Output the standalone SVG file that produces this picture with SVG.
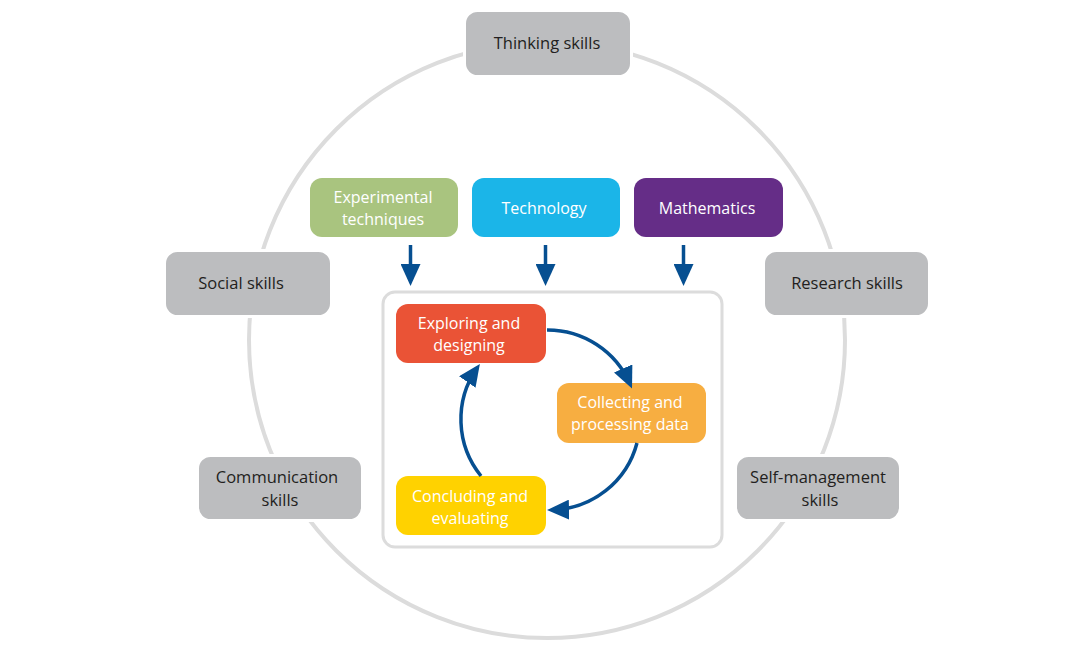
<svg xmlns="http://www.w3.org/2000/svg" width="1080" height="653" viewBox="0 0 1080 653">
<defs>
<marker id="ah" markerUnits="userSpaceOnUse" markerWidth="22" markerHeight="20" viewBox="0 0 22 20" refX="17" refY="10" orient="auto">
<path d="M0,0 L22,10 L0,20 z" fill="#064f91"/>
</marker>
</defs>
<style>
.gray{fill:#bcbdbf;stroke:#fff;stroke-width:3}
.t{font-family:"Open Sans","Noto Sans",sans-serif;font-size:16px;text-anchor:middle}
.dk{fill:#231f20;font-size:16.5px}
.wh{fill:#fff}
.conn{fill:none;stroke:#064f91;stroke-width:3.5}
</style>
<rect width="1080" height="653" fill="#fff"/>
<circle cx="547" cy="340" r="298" fill="none" stroke="#dcdcdc" stroke-width="4"/>
<g id="thinking"><rect class="gray" x="464.5" y="10.5" width="167" height="66" rx="13"/><text class="t dk" x="547" y="49">Thinking skills</text></g>
<g id="social"><rect class="gray" x="164.5" y="250.5" width="167" height="66" rx="13"/><text class="t dk" x="241" y="289">Social skills</text></g>
<g id="research"><rect class="gray" x="763.5" y="250.5" width="166" height="66" rx="13"/><text class="t dk" x="847" y="289">Research skills</text></g>
<g id="communication"><rect class="gray" x="197.5" y="455.5" width="165" height="65" rx="13"/><text class="t dk" x="277" y="483">Communication</text><text class="t dk" x="280" y="506">skills</text></g>
<g id="selfmgmt"><rect class="gray" x="735.5" y="455.5" width="165" height="65" rx="13"/><text class="t dk" x="818" y="483">Self-management</text><text class="t dk" x="820" y="506">skills</text></g>
<g id="experimental"><rect x="310" y="178" width="148" height="59" rx="12" fill="#a9c47f"/><text class="t wh" x="383" y="203">Experimental</text><text class="t wh" x="383" y="225">techniques</text></g>
<g id="technology"><rect x="472" y="178" width="148" height="59" rx="12" fill="#1bb5e8"/><text class="t wh" x="544" y="214">Technology</text></g>
<g id="mathematics"><rect x="634" y="178" width="149" height="59" rx="12" fill="#652d87"/><text class="t wh" x="707" y="214">Mathematics</text></g>
<g id="cyclebox"><rect x="383" y="292" width="339" height="255" rx="12" fill="#fff" stroke="#dcdcdc" stroke-width="3"/></g>
<g id="exploring"><rect x="396" y="304" width="150" height="59" rx="12" fill="#ea5336"/><text class="t wh" x="469" y="329">Exploring and</text><text class="t wh" x="469" y="351">designing</text></g>
<g id="collecting"><rect x="557" y="383" width="149" height="60" rx="12" fill="#f7ae41"/><text class="t wh" x="630" y="408">Collecting and</text><text class="t wh" x="630" y="430">processing data</text></g>
<g id="concluding"><rect x="396" y="476" width="150" height="59" rx="12" fill="#ffd200"/><text class="t wh" x="470" y="502">Concluding and</text><text class="t wh" x="470" y="524">evaluating</text></g>
<g id="connectors">
<line class="conn" x1="410.5" y1="245" x2="410.5" y2="281" marker-end="url(#ah)"/>
<line class="conn" x1="545.5" y1="245" x2="545.5" y2="281" marker-end="url(#ah)"/>
<line class="conn" x1="683.5" y1="245" x2="683.5" y2="281" marker-end="url(#ah)"/>
<path class="conn" d="M547 330 A90 90 0 0 1 630 384" marker-end="url(#ah)"/>
<path class="conn" d="M637 443 A90 90 0 0 1 552 510" marker-end="url(#ah)"/>
<path class="conn" d="M481 476 A90 90 0 0 1 477 368" marker-end="url(#ah)"/>
</g>
</svg>
